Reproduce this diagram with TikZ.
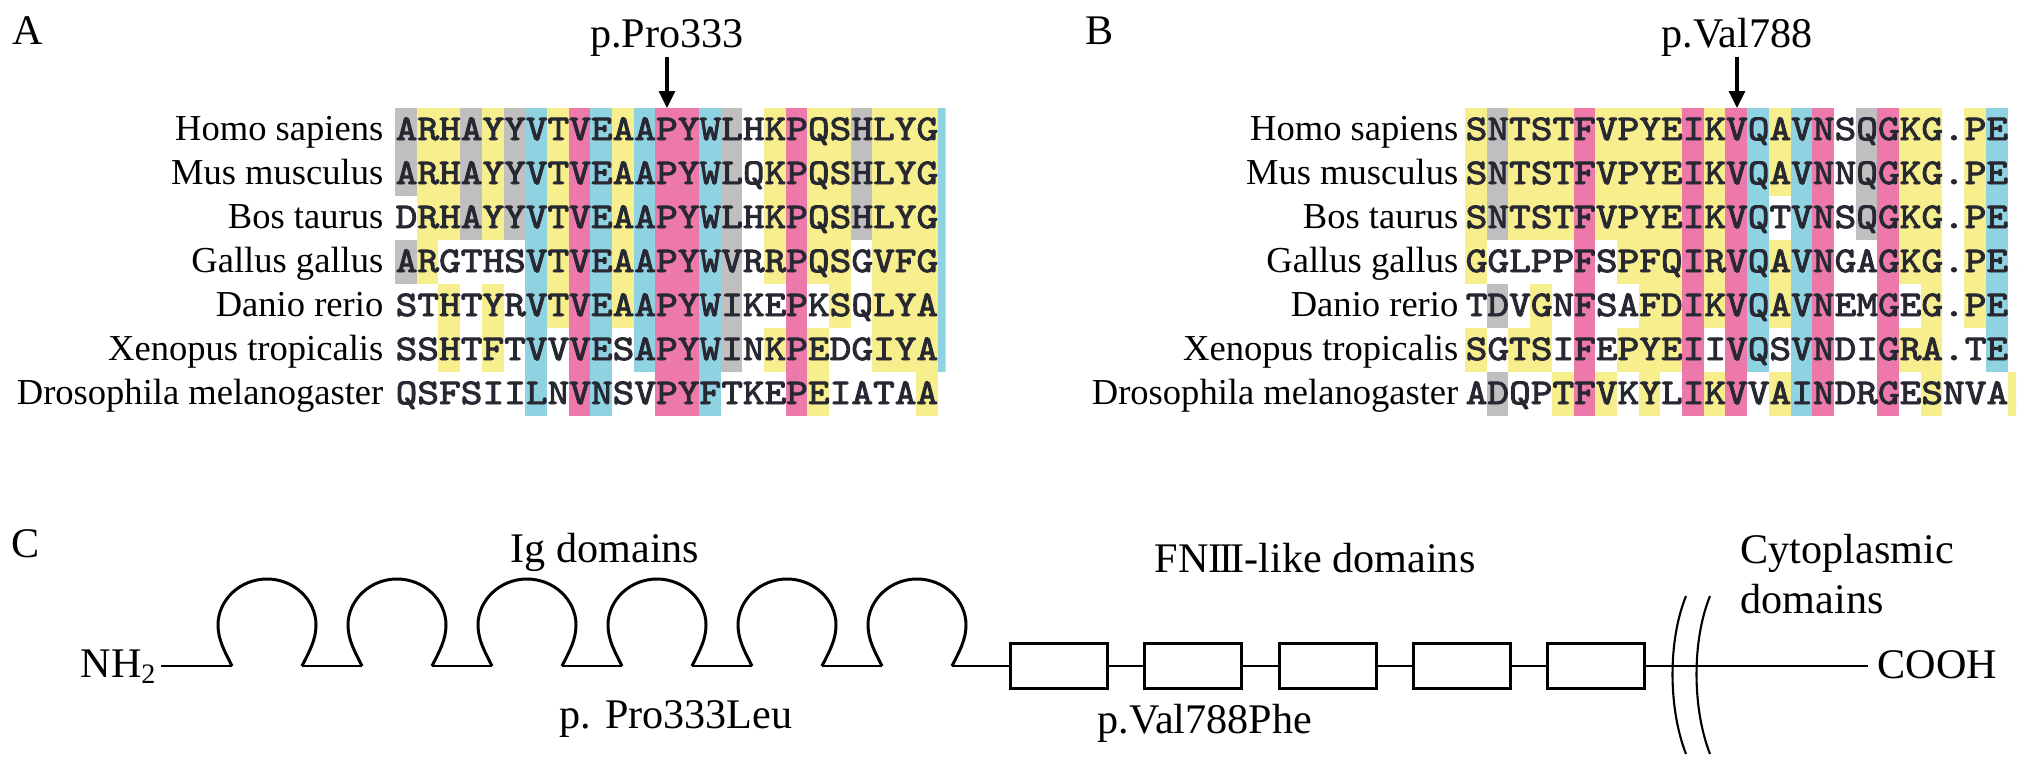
\documentclass[tikz,border=0pt]{standalone}
\usepackage{fontspec}
\setmainfont{Liberation Serif}
\newfontfamily\monof{Latin Modern Mono}[FakeStretch=1.1429, FakeBold=2.6]
\usetikzlibrary{arrows.meta}
\definecolor{colY}{RGB}{247,239,141}
\definecolor{colG}{RGB}{191,191,191}
\definecolor{colC}{RGB}{143,211,226}
\definecolor{colP}{RGB}{237,121,171}
\definecolor{colW}{RGB}{255,255,255}
\definecolor{ink}{RGB}{40,40,50}
\newcommand\cellrow[3]{%
  \foreach \cc [count=\ii from 0] in {#3} {%
    \fill[fill=col\cc] ({#1+21.7*\ii},{108+44*#2}) rectangle ++(21.75,44.05);
  }}
\newcommand\romIII{I\kern-0.07em I\kern-0.07em I}
\begin{document}
\begin{tikzpicture}[x=0.1mm,y=-0.1mm,
  lab/.style={font=\fontsize{10.4pt}{12pt}\selectfont, anchor=base east, inner sep=0pt},
  seq/.style={font=\monof\fontsize{10.29pt}{12pt}\selectfont, anchor=base west, inner sep=0pt, text=ink},
  big/.style={font=\fontsize{12pt}{14pt}\selectfont, inner sep=0pt},
  marrow/.style={line width=0.9pt, -{Triangle[length=1.7mm,width=1.6mm]}},
  loopline/.style={line width=0.85pt},
  backbone/.style={line width=0.6pt},
  fnbox/.style={draw, line width=0.85pt, minimum width=9.7mm, minimum height=4.5mm, inner sep=0pt}]
\useasboundingbox (0,0) rectangle (2031,761);

% ---------- Panel A ----------
\node[big, anchor=base west] (pA) at (12,44) {A};
\node[big, anchor=base] (ptA) at (667,47) {p.Pro333};
\coordinate (arrA) at (667,108);
\draw[marrow] (ptA.south) -- (arrA);

\begin{scope}
\clip (395,100) rectangle (945.5,420);
\cellrow{395}{0}{G,Y,Y,G,Y,G,C,Y,P,C,Y,C,P,P,C,G,W,Y,P,Y,Y,G,Y,Y,Y,C}
\cellrow{395}{1}{G,Y,Y,G,Y,G,C,Y,P,C,Y,C,P,P,C,G,W,Y,P,Y,Y,G,Y,Y,Y,C}
\cellrow{395}{2}{W,Y,Y,G,Y,G,C,Y,P,C,Y,C,P,P,C,G,W,Y,P,Y,Y,G,Y,Y,Y,C}
\cellrow{395}{3}{G,Y,W,W,W,W,C,Y,P,C,Y,C,P,P,C,G,W,Y,P,Y,Y,W,Y,Y,Y,C}
\cellrow{395}{4}{W,W,Y,W,Y,W,C,Y,P,C,Y,C,P,P,C,G,W,W,P,W,Y,W,Y,Y,Y,C}
\cellrow{395}{5}{W,W,Y,W,Y,W,C,W,P,C,W,C,P,P,C,G,W,Y,P,Y,W,W,Y,Y,Y,C}
\cellrow{395}{6}{W,W,W,W,W,W,C,W,P,C,W,W,P,P,C,W,W,W,P,Y,W,W,W,W,Y,W}
\node[seq] (a0) at (395,140) {ARHAYYVTVEAAPYWLHKPQSHLYG};
\node[seq] (a1) at (395,184) {ARHAYYVTVEAAPYWLQKPQSHLYG};
\node[seq] (a2) at (395,228) {DRHAYYVTVEAAPYWLHKPQSHLYG};
\node[seq] (a3) at (395,272) {ARGTHSVTVEAAPYWVRRPQSGVFG};
\node[seq] (a4) at (395,316) {STHTYRVTVEAAPYWIKEPKSQLYA};
\node[seq] (a5) at (395,360) {SSHTFTVVVESAPYWINKPEDGIYA};
\node[seq] (a6) at (395,404) {QSFSIILNVNSVPYFTKEPEIATAA};
\end{scope}
\node[lab] (la0) at (384,140) {Homo sapiens};
\node[lab] (la1) at (384,184) {Mus musculus};
\node[lab] (la2) at (384,228) {Bos taurus};
\node[lab] (la3) at (384,272) {Gallus gallus};
\node[lab] (la4) at (384,316) {Danio rerio};
\node[lab] (la5) at (384,360) {Xenopus tropicalis};
\node[lab] (la6) at (384,404) {Drosophila melanogaster};

% ---------- Panel B ----------
\node[big, anchor=base west] (pB) at (1085,44) {B};
\node[big, anchor=base] (ptB) at (1737,47) {p.Val788};
\coordinate (arrB) at (1737,108);
\draw[marrow] (ptB.south) -- (arrB);

\begin{scope}
\clip (1465,100) rectangle (2016,420);
\cellrow{1465}{0}{Y,G,Y,Y,Y,P,Y,Y,Y,Y,P,Y,P,C,Y,C,P,W,G,P,Y,Y,W,Y,C,W}
\cellrow{1465}{1}{Y,G,Y,Y,Y,P,Y,Y,Y,Y,P,Y,P,C,Y,C,P,W,G,P,Y,Y,W,Y,C,W}
\cellrow{1465}{2}{Y,G,Y,Y,Y,P,Y,Y,Y,Y,P,Y,P,C,W,C,P,W,G,P,Y,Y,W,Y,C,W}
\cellrow{1465}{3}{Y,W,W,W,W,P,W,Y,Y,Y,P,Y,P,C,Y,C,P,W,W,P,Y,Y,W,Y,C,W}
\cellrow{1465}{4}{W,G,W,Y,W,P,W,W,Y,Y,P,Y,P,C,Y,C,P,W,W,P,W,Y,W,Y,C,W}
\cellrow{1465}{5}{Y,W,Y,Y,W,P,W,Y,Y,Y,P,W,P,C,W,C,P,W,W,P,Y,Y,W,W,C,W}
\cellrow{1465}{6}{W,G,W,W,Y,P,Y,W,Y,W,P,Y,P,W,Y,C,P,W,W,P,W,Y,W,W,W,Y}
\node[seq] (b0) at (1465,140) {SNTSTFVPYEIKVQAVNSQGKG.PE};
\node[seq] (b1) at (1465,184) {SNTSTFVPYEIKVQAVNNQGKG.PE};
\node[seq] (b2) at (1465,228) {SNTSTFVPYEIKVQTVNSQGKG.PE};
\node[seq] (b3) at (1465,272) {GGLPPFSPFQIRVQAVNGAGKG.PE.};
\node[seq] (b4) at (1465,316) {TDVGNFSAFDIKVQAVNEMGEG.PE};
\node[seq] (b5) at (1465,360) {SGTSIFEPYEIIVQSVNDIGRA.TE};
\node[seq] (b6) at (1465,404) {ADQPTFVKYLIKVVAINDRGESNVA.};
\end{scope}
\node[lab] (lb0) at (1459,140) {Homo sapiens};
\node[lab] (lb1) at (1459,184) {Mus musculus};
\node[lab] (lb2) at (1459,228) {Bos taurus};
\node[lab] (lb3) at (1459,272) {Gallus gallus};
\node[lab] (lb4) at (1459,316) {Danio rerio};
\node[lab] (lb5) at (1459,360) {Xenopus tropicalis};
\node[lab] (lb6) at (1459,404) {Drosophila melanogaster};

% ---------- Panel C ----------
\node[big, anchor=base west] (pC) at (11,557) {C};
\node[big, anchor=base] (ig) at (605,562) {Ig domains};
\node[big, anchor=base] (fn) at (1315,572) {FN\romIII-like domains};
\node[big, anchor=base west] (cy1) at (1740,563) {Cytoplasmic};
\node[big, anchor=base west] (cy2) at (1740,613) {domains};
\node[big, anchor=base east] (nh2) at (158,677) {NH\textsubscript{2}};
\node[big, anchor=base west] (cooh) at (1877,678) {COOH};
\node[big, anchor=base] (m1) at (676,728) {p. Pro333Leu};
\node[big, anchor=base] (m2) at (1205,733) {p.Val788Phe};

\coordinate (s0) at (161,666);
\foreach \i in {0,...,5} {
  \pgfmathsetmacro\cx{267+130*\i}
  \coordinate (L\i l) at (\cx-35,666);
  \coordinate (L\i r) at (\cx+35,666);
  \draw[loopline] (\cx-35,666) .. controls (\cx-42,652) and (\cx-49,640) .. (\cx-49,625)
     .. controls (\cx-49,600) and (\cx-27,579) .. (\cx,579)
     .. controls (\cx+27,579) and (\cx+49,600) .. (\cx+49,625)
     .. controls (\cx+49,640) and (\cx+42,652) .. (\cx+35,666);
}
\draw[backbone] (s0) -- (L0l);
\draw[backbone] (L0r) -- (L1l);
\draw[backbone] (L1r) -- (L2l);
\draw[backbone] (L2r) -- (L3l);
\draw[backbone] (L3r) -- (L4l);
\draw[backbone] (L4r) -- (L5l);

\node[fnbox] (f1) at (1058.5,666) {};
\node[fnbox] (f2) at (1193,666) {};
\node[fnbox] (f3) at (1327.5,666) {};
\node[fnbox] (f4) at (1462,666) {};
\node[fnbox] (f5) at (1596,666) {};
\draw[backbone] (L5r) -- (f1.west);
\draw[backbone] (f1) -- (f2);
\draw[backbone] (f2) -- (f3);
\draw[backbone] (f3) -- (f4);
\draw[backbone] (f4) -- (f5);
\coordinate (ce) at (1868,666);
\draw[backbone] (f5.east) -- (ce);

% double break marks
\draw[line width=0.6pt] (1686,596) .. controls (1668,640) and (1668,708) .. (1686,754);
\draw[line width=0.6pt] (1710,596) .. controls (1692,640) and (1692,708) .. (1710,754);
\end{tikzpicture}
\end{document}
